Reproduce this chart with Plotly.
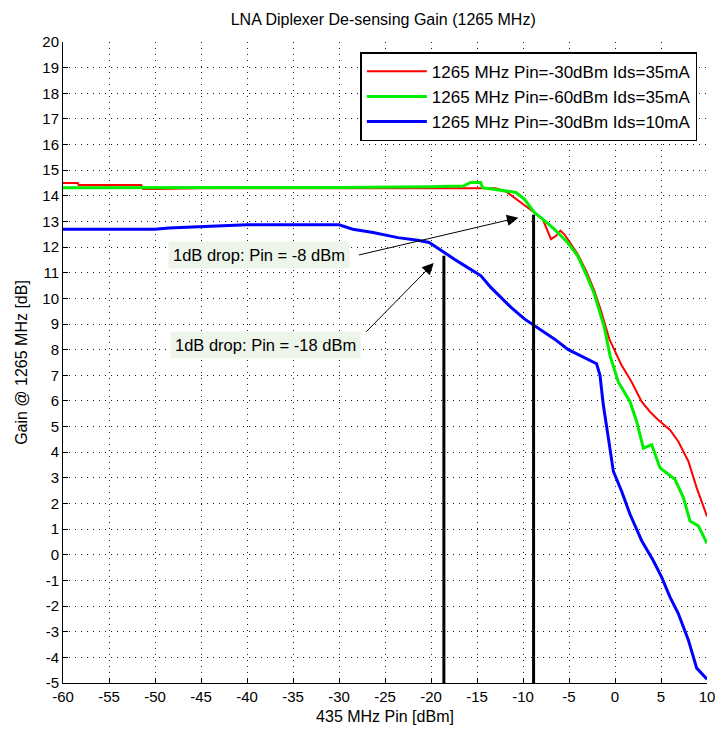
import plotly.graph_objects as go

# ---- data ----
red_x = [-60, -58.4, -58.3, -51.5, -51.3, -50, -45, -40, -35, -30, -25, -20, -18, -15, -13,
         -11.85, -10.4, -8.77, -7.86, -7.3, -6.96, -6.4, -5.94, -5.5, -4.78, -4.06, -3.15,
         -2.25, -1.52, -0.6, 0.72, 1.81, 2.9, 3.8, 4.71, 5.98, 6.88, 7.97, 8.88, 10]
red_y = [14.5, 14.5, 14.42, 14.42, 14.27, 14.27, 14.3, 14.3, 14.3, 14.3, 14.3, 14.3, 14.3, 14.3, 14.3,
         14.17, 13.8, 13.35, 13.09, 12.64, 12.31, 12.44, 12.64, 12.5, 12.12, 11.73, 11.08,
         10.3, 9.52, 8.4, 7.39, 6.74, 5.97, 5.58, 5.26, 4.87, 4.42, 3.65, 2.61, 1.5]

green_x = [-60, -50, -40, -30, -20, -16.5, -15.7, -14.6, -14.4, -11.8, -10.76, -9.85, -8.77,
           -7.86, -6.6, -5.15, -4.06, -3.15, -2.25, -1.16, -0.54, 0.36, 1.63, 2.36, 3.08,
           3.99, 4.89, 5.62, 6.52, 7.43, 8.15, 9.06, 10]
green_y = [14.32, 14.32, 14.32, 14.33, 14.35, 14.38, 14.52, 14.52, 14.32, 14.2, 14.13, 13.87, 13.35,
           13.09, 12.7, 12.18, 11.66, 10.95, 10.17, 8.87, 7.77, 6.74, 5.97, 5.19, 4.16,
           4.29, 3.39, 3.19, 2.94, 2.23, 1.32, 1.13, 0.45]

blue_x = [-60, -50, -48.5, -45, -41.5, -40, -35, -30, -28.5, -26.3, -23.6, -21.45, -20.2,
          -18.9, -17.46, -16, -14.57, -13.5, -12.4, -11.3, -9.85, -8.77, -7.68, -6.6, -5.07,
          -2.0, -1.63, -1.27, -0.72, -0.18, 0.72, 1.63, 2.9, 4.17, 5.07, 5.98, 6.88, 7.97, 8.88, 10]
blue_y = [12.7, 12.7, 12.75, 12.8, 12.85, 12.87, 12.87, 12.87, 12.7, 12.57, 12.37, 12.27, 12.18,
          11.86, 11.53, 11.2, 10.88, 10.43, 10.04, 9.65, 9.2, 8.94, 8.68, 8.42, 8.0,
          7.45, 7.0, 5.84, 4.55, 3.26, 2.48, 1.58, 0.55, -0.23, -0.87, -1.65, -2.29, -3.32, -4.42, -4.85]

series_names = ["1265 MHz Pin=-30dBm Ids=35mA",
                "1265 MHz Pin=-60dBm Ids=35mA",
                "1265 MHz Pin=-30dBm Ids=10mA"]

drop_x = [-18.6, -8.85]
drop_top = [11.66, 13.26]

note_texts = ["1dB drop: Pin = -8 dBm", "1dB drop: Pin = -18 dBm"]
note_pos = [(-38.7, 11.69), (-38.0, 8.2)]
arrow_tail = [(-28.0, 11.68), (-27.2, 8.64)]
arrow_head = [(-10.5, 13.15), (-19.7, 11.38)]

x_ticks = list(range(-60, 11, 5))
y_ticks = list(range(-5, 21, 1))

FONT = "Liberation Sans, Arial, sans-serif"

fig = go.Figure()
fig.add_trace(go.Scatter(x=red_x, y=red_y, mode="lines", name=series_names[0],
                         line=dict(color="#ff0000", width=2)))
fig.add_trace(go.Scatter(x=green_x, y=green_y, mode="lines", name=series_names[1],
                         line=dict(color="#00ee00", width=3)))
fig.add_trace(go.Scatter(x=blue_x, y=blue_y, mode="lines", name=series_names[2],
                         line=dict(color="#0000ff", width=3)))

for xv, top in zip(drop_x, drop_top):
    fig.add_trace(go.Scatter(x=[xv, xv], y=[-5, top], mode="lines", showlegend=False,
                             line=dict(color="black", width=3), hoverinfo="skip"))

for (tx, ty), txt in zip(note_pos, note_texts):
    fig.add_annotation(x=tx, y=ty, xref="x", yref="y", text=txt, showarrow=False,
                       font=dict(family=FONT, size=16.5, color="black"),
                       bgcolor="#edf4ea", borderpad=4)
for (ax_, ay_), (hx, hy) in zip(arrow_tail, arrow_head):
    fig.add_annotation(x=hx, y=hy, xref="x", yref="y", ax=ax_, ay=ay_, axref="x", ayref="y",
                       text="", showarrow=True, arrowhead=2, arrowsize=2.3, arrowwidth=1,
                       arrowcolor="black", standoff=0, startstandoff=0)

axis_common = dict(
    showline=True, linecolor="black", linewidth=1,
    ticks="inside", ticklen=5, tickcolor="black", tickwidth=1,
    showgrid=True, gridcolor="#222222", gridwidth=1, griddash="1px,5px",
    zeroline=False, tickfont=dict(family=FONT, size=15, color="black"),
    mirror=False, ticklabeloverflow="allow", automargin=False,
)

fig.update_xaxes(range=[-60, 10], tickvals=x_ticks, ticktext=[str(v) for v in x_ticks],
                 title=dict(text="435 MHz Pin [dBm]", font=dict(family=FONT, size=16, color="black"),
                            standoff=6),
                 **axis_common)
fig.update_yaxes(range=[-5, 20], tickvals=y_ticks, ticktext=[str(v) for v in y_ticks],
                 title=dict(text="Gain @ 1265 MHz [dB]", font=dict(family=FONT, size=16, color="black"),
                            standoff=10),
                 **axis_common)

fig.update_layout(
    width=715, height=731,
    margin=dict(l=63, r=8, t=42, b=48),
    paper_bgcolor="white", plot_bgcolor="white",
    title=dict(text="LNA Diplexer De-sensing Gain (1265 MHz)", x=0.536, xanchor="center",
               y=0.974, yanchor="middle", font=dict(family=FONT, size=16, color="black")),
    showlegend=True,
    legend=dict(x=0.985, y=0.984, xanchor="right", yanchor="top",
                bgcolor="white", bordercolor="black", borderwidth=1.5,
                font=dict(family=FONT, size=17, color="black"),
                itemwidth=60),
)

fig.write_html("out.html")
